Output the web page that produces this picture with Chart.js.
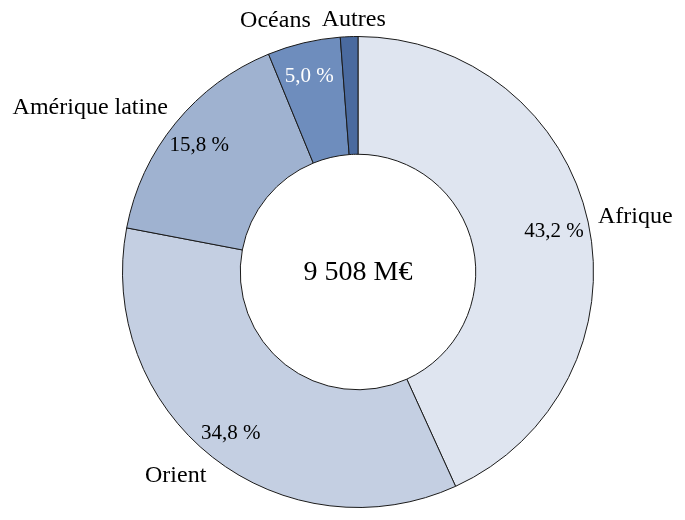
<!DOCTYPE html>
<html>
<head>
<meta charset="utf-8">
<script src="https://cdn.jsdelivr.net/npm/chart.js@4"></script>
<style>
html,body{margin:0;padding:0;background:#fff;}
canvas{display:block;}
</style>
</head>
<body>
<canvas id="c" width="685" height="520"></canvas>
<script>
const categories = ["Afrique", "Orient", "Amérique latine", "Océans", "Autres"];
const shares = [43.2, 34.8, 15.8, 5.0, 1.2];
const shareLabels = ["43,2 %", "34,8 %", "15,8 %", "5,0 %", ""];
const totalLabel = "9 508 M€";
const colors = ["#dfe5f0", "#c4cfe2", "#9fb2d0", "#6e8dbd", "#4a6a9f"];
const shareColors = ["#000", "#000", "#000", "#fff", "#000"];

const FONT = "'Liberation Serif', 'Times New Roman', serif";

const labelPlugin = {
  id: 'donutLabels',
  afterDatasetsDraw(chart, args, opts) {
    const ctx = chart.ctx;
    const meta = chart.getDatasetMeta(0);
    ctx.save();
    meta.data.forEach((arc, i) => {
      const p = arc.getProps(['x','y','startAngle','endAngle','innerRadius','outerRadius'], true);
      const mid = (p.startAngle + p.endAngle) / 2;
      const c = Math.cos(mid), s = Math.sin(mid);
      if (shareLabels[i]) {
        const r = p.innerRadius + 0.72 * (p.outerRadius - p.innerRadius);
        ctx.font = "21px " + FONT;
        ctx.fillStyle = shareColors[i];
        ctx.textAlign = 'center';
        ctx.textBaseline = 'middle';
        ctx.fillText(shareLabels[i], p.x + r * c - 2, p.y + r * s + 2);
      }
      const ro = p.outerRadius + 10;
      const nudge = opts.nudge[i] || [0, 0];
      let x = p.x + ro * c + nudge[0];
      let y = p.y + ro * s + s * 14 + nudge[1];
      ctx.font = "24px " + FONT;
      ctx.fillStyle = '#000';
      ctx.textAlign = c > 0.3 ? 'left' : (c < -0.3 ? 'right' : 'center');
      ctx.textBaseline = 'middle';
      ctx.fillText(categories[i], x, y);
    });
    const a0 = meta.data[0];
    ctx.font = "28px " + FONT;
    ctx.fillStyle = '#000';
    ctx.textAlign = 'center';
    ctx.textBaseline = 'middle';
    ctx.fillText(totalLabel, a0.x, a0.y + 1);
    ctx.restore();
  }
};

new Chart(document.getElementById('c'), {
  type: 'doughnut',
  data: {
    labels: categories,
    datasets: [{
      data: shares,
      backgroundColor: colors,
      borderColor: '#1a1a1a',
      borderWidth: 1,
      borderAlign: 'center'
    }]
  },
  options: {
    responsive: false,
    animation: false,
    cutout: '50%',
    layout: { padding: { top: 36, bottom: 12, left: 31, right: 0 } },
    plugins: {
      legend: { display: false },
      tooltip: { enabled: false },
      donutLabels: { nudge: [[0,0],[0,0],[0,0],[-26,1],[5,7]] }
    }
  },
  plugins: [labelPlugin]
});
</script>
</body>
</html>
